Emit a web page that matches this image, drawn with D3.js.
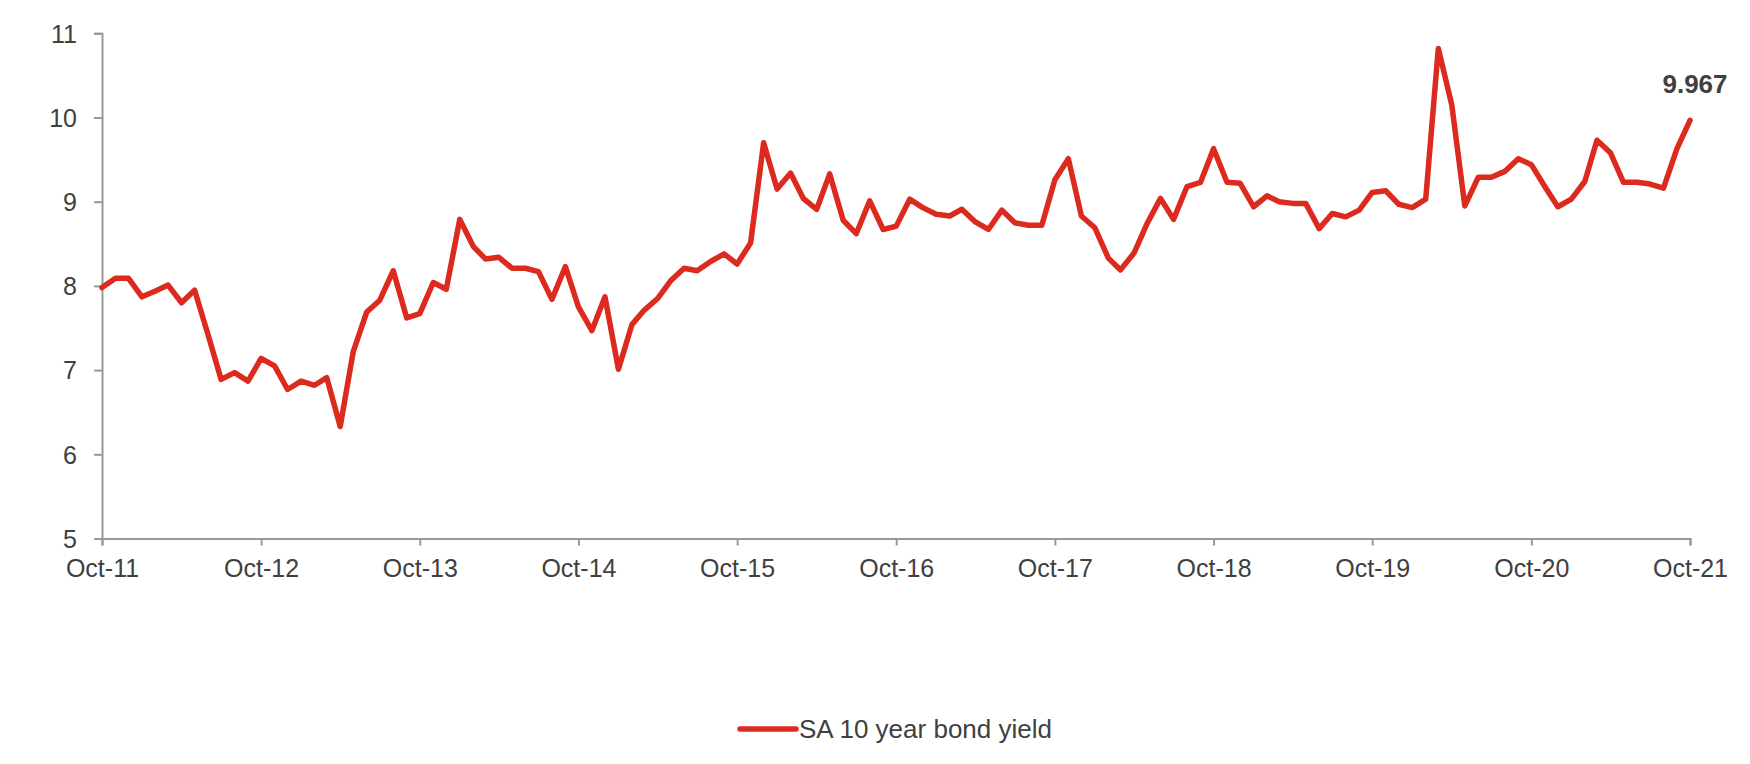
<!DOCTYPE html>
<html>
<head>
<meta charset="utf-8">
<script src="https://cdn.jsdelivr.net/npm/d3@7"></script>
<style>
  html, body { margin: 0; padding: 0; background: #fff; }
  svg { display: block; font-family: "Liberation Sans", Arial, sans-serif; }
</style>
</head>
<body>
<div id="chart"></div>
<script>
'use strict';

// SA 10 year bond yield, monthly, Oct-11 .. Oct-21
const startMonth = new Date(2011, 9, 1);
const yieldValues = [
    7.98, 8.09, 8.09, 7.87, 7.94, 8.01, 7.80, 7.95, 7.42, 6.89,
    6.97, 6.87, 7.14, 7.05, 6.77, 6.87, 6.82, 6.91, 6.33, 7.22,
    7.69, 7.83, 8.18, 7.62, 7.67, 8.04, 7.96, 8.79, 8.47, 8.32,
    8.34, 8.21, 8.21, 8.17, 7.84, 8.23, 7.75, 7.47, 7.87, 7.01,
    7.54, 7.71, 7.85, 8.06, 8.21, 8.18, 8.29, 8.38, 8.26, 8.51,
    9.70, 9.15, 9.34, 9.04, 8.91, 9.33, 8.78, 8.62, 9.01, 8.67,
    8.71, 9.03, 8.93, 8.85, 8.83, 8.91, 8.76, 8.67, 8.90, 8.75,
    8.72, 8.72, 9.26, 9.51, 8.83, 8.69, 8.33, 8.19, 8.39, 8.74,
    9.04, 8.79, 9.18, 9.23, 9.63, 9.23, 9.22, 8.94, 9.07, 9.00,
    8.98, 8.98, 8.68, 8.86, 8.82, 8.90, 9.11, 9.13, 8.97, 8.93,
    9.03, 10.82, 10.15, 8.95, 9.29, 9.29, 9.36, 9.51, 9.44, 9.18,
    8.94, 9.03, 9.24, 9.73, 9.58, 9.23, 9.23, 9.21, 9.16, 9.63,
    9.967
];
const yTicks = [5, 6, 7, 8, 9, 10, 11];
const seriesName = 'SA 10 year bond yield';
const lastLabel = '9.967';

const data = yieldValues.map((v, i) => ({ date: d3.timeMonth.offset(startMonth, i), value: v }));

const width = 1750;
const height = 764;
const plot = { left: 102, right: 1690, top: 33.3, bottom: 538.5 };
const red = '#dc2a1f';
const axisGrey = '#999999';
const textGrey = '#404040';

const svg = d3.select('#chart').append('svg')
    .attr('width', width)
    .attr('height', height);

const x = d3.scaleTime()
    .domain([startMonth, data[data.length - 1].date])
    .range([plot.left, plot.right]);

const y = d3.scaleLinear()
    .domain([5, 11])
    .range([plot.bottom, plot.top]);

// y axis
const yAxis = svg.append('g')
    .attr('transform', `translate(${plot.left},0)`)
    .call(d3.axisLeft(y).tickValues(yTicks).tickSize(8).tickPadding(17).tickFormat(d3.format('d')));

// x axis, one tick per October
const xTicks = d3.range(0, 121, 12).map(i => d3.timeMonth.offset(startMonth, i));
const xAxis = svg.append('g')
    .attr('transform', `translate(0,${plot.bottom})`)
    .call(d3.axisBottom(x).tickValues(xTicks).tickSize(7).tickPadding(14).tickFormat(d3.timeFormat('%b-%y')));

[xAxis, yAxis].forEach(ax => {
    ax.select('.domain').attr('stroke', axisGrey).attr('stroke-width', 2);
    ax.selectAll('.tick line').attr('stroke', axisGrey).attr('stroke-width', 2);
    ax.selectAll('.tick text')
        .attr('fill', textGrey)
        .style('font-size', '25px')
        .style('font-family', '"Liberation Sans", Arial, sans-serif');
});
yAxis.selectAll('.tick text').attr('dy', '0.35em');

// the line
const line = d3.line()
    .x(d => x(d.date))
    .y(d => y(d.value));

svg.append('path')
    .datum(data)
    .attr('fill', 'none')
    .attr('stroke', red)
    .attr('stroke-width', 5.5)
    .attr('stroke-linejoin', 'round')
    .attr('stroke-linecap', 'round')
    .attr('d', line);

// last value label
const last = data[data.length - 1];
svg.append('text')
    .attr('x', x(last.date) + 5)
    .attr('y', y(last.value) - 27)
    .attr('text-anchor', 'middle')
    .attr('fill', textGrey)
    .style('font-size', '26px')
    .style('font-weight', 'bold')
    .text(lastLabel);

// legend
const legend = svg.append('g').attr('transform', 'translate(740,729)');
legend.append('line')
    .attr('x1', 0).attr('x2', 56)
    .attr('y1', 0).attr('y2', 0)
    .attr('stroke', red)
    .attr('stroke-width', 5.5)
    .attr('stroke-linecap', 'round');
legend.append('text')
    .attr('x', 59)
    .attr('y', 0)
    .attr('dy', '0.35em')
    .attr('fill', textGrey)
    .style('font-size', '26px')
    .text(seriesName);
</script>
</body>
</html>
